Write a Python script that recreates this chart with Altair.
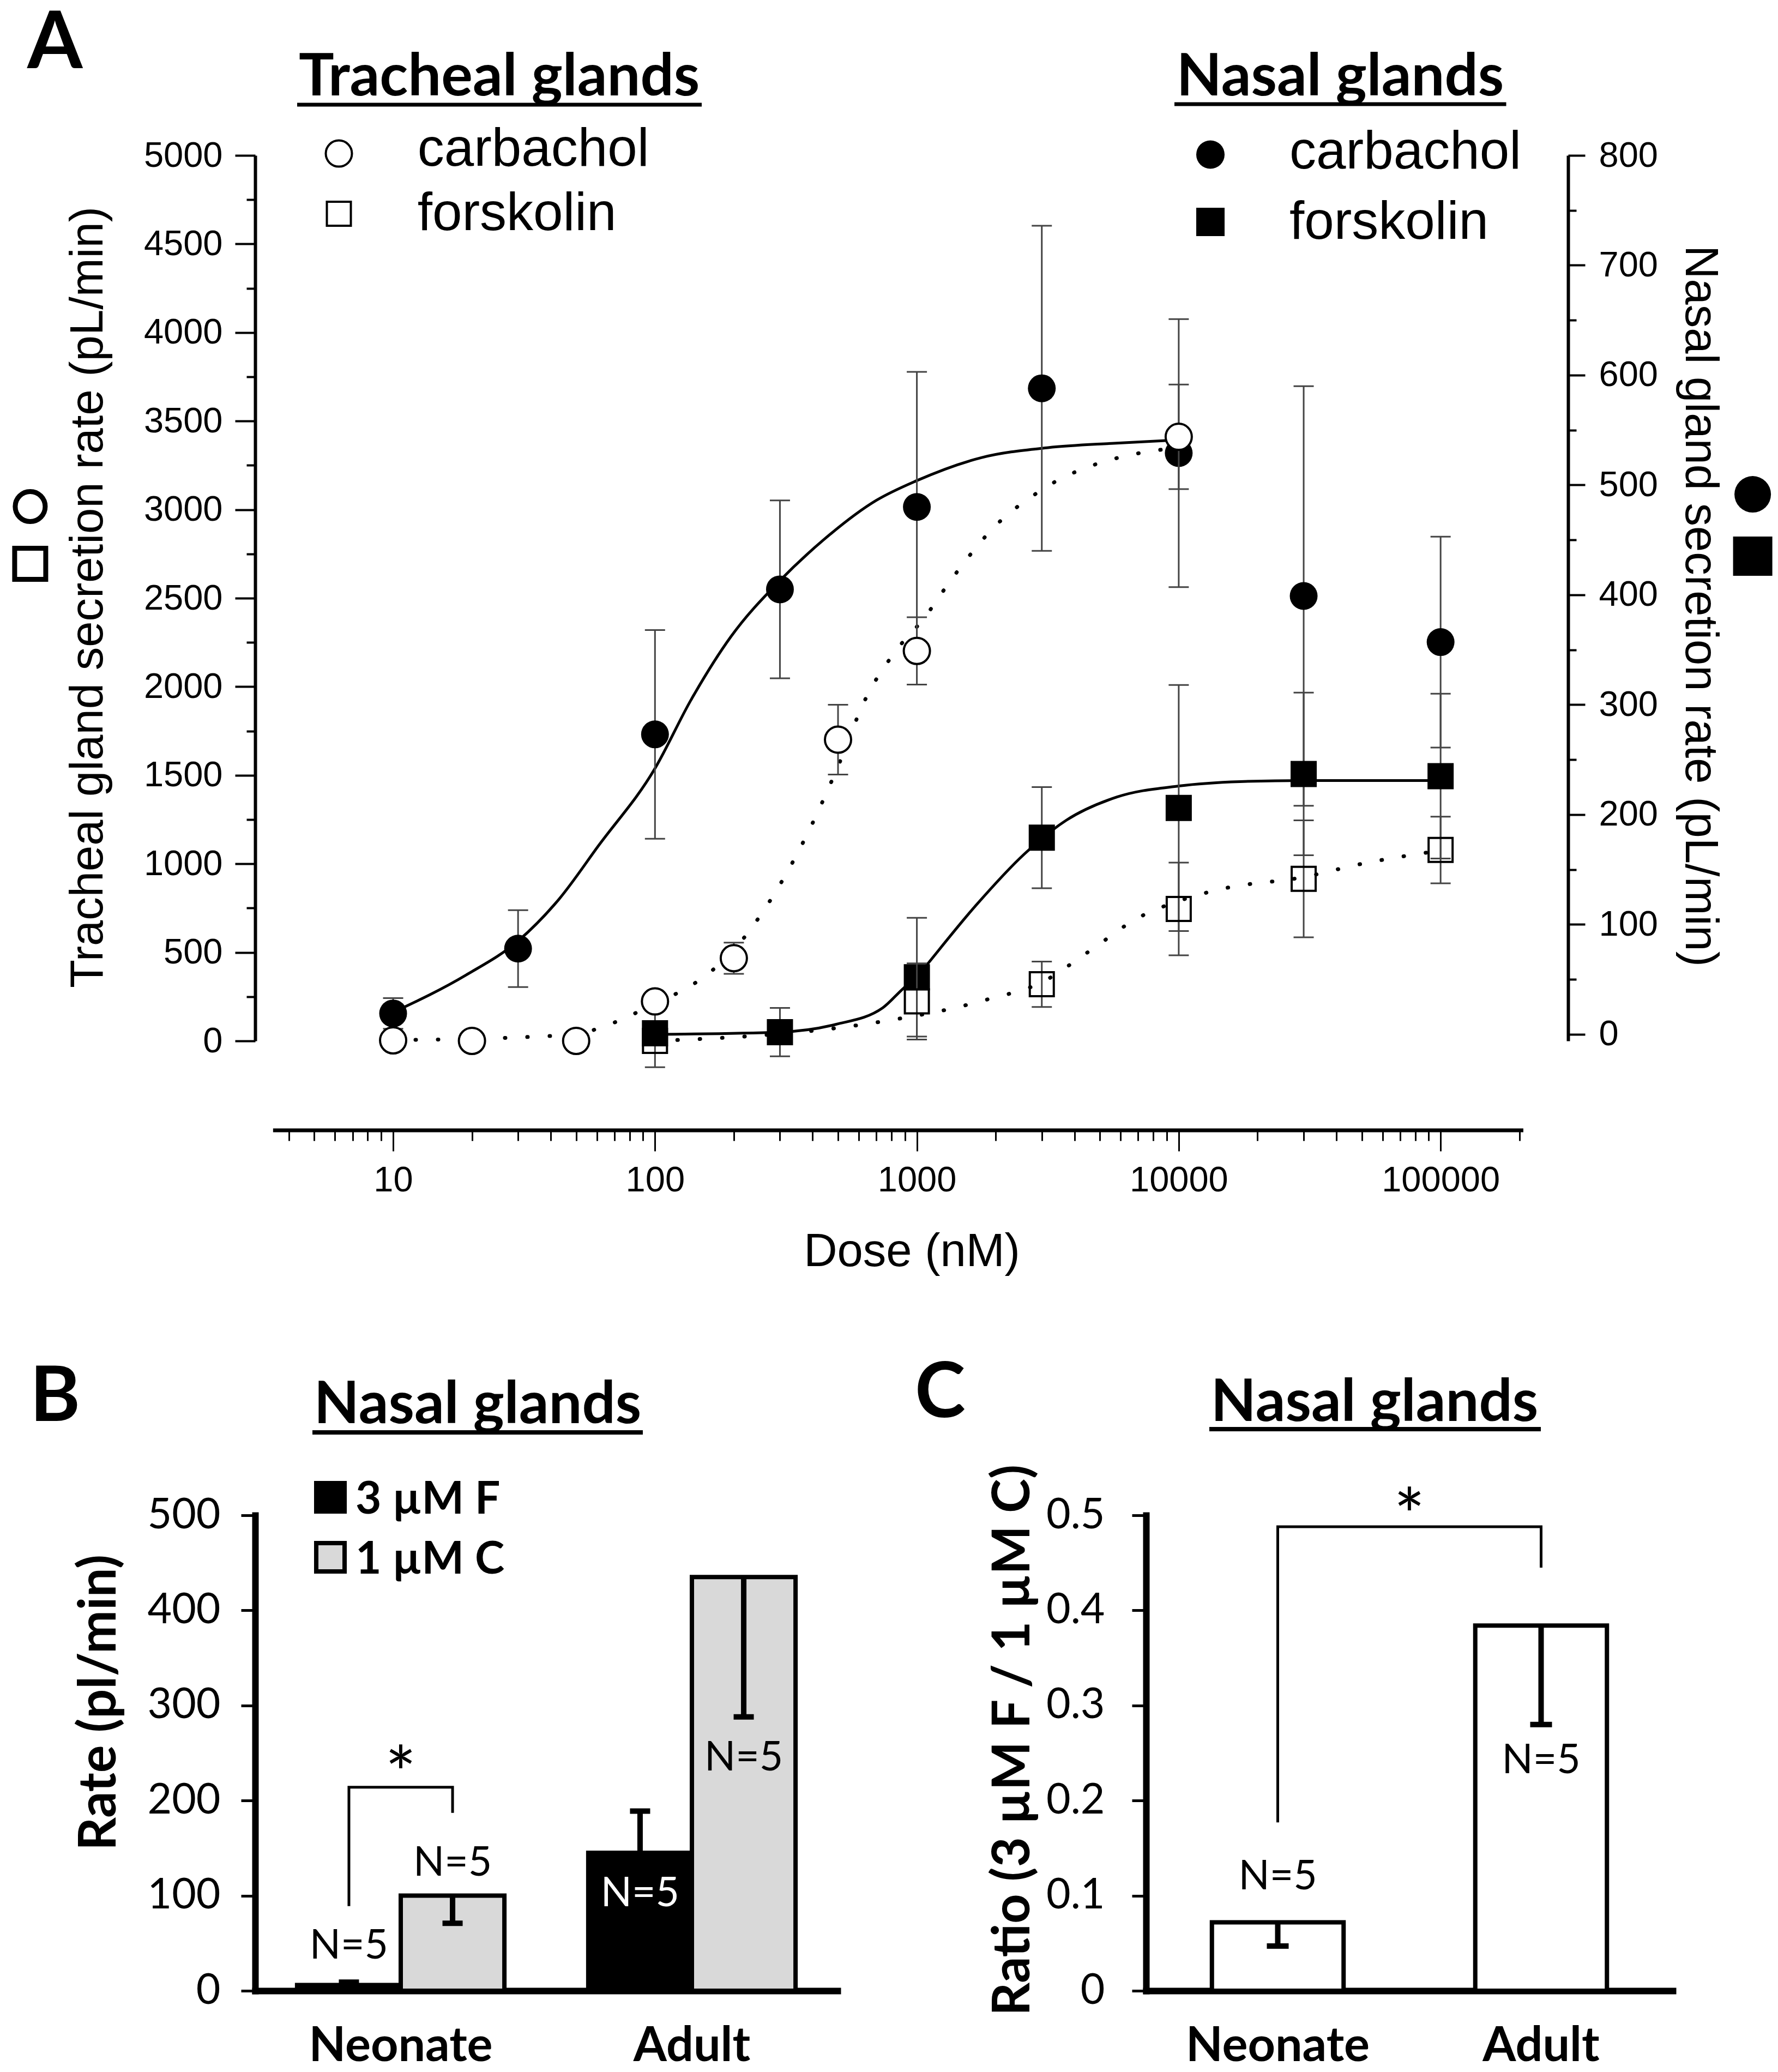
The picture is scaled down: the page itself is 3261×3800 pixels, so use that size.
import altair as alt
import pandas as pd

# ---------------- Panel A data ----------------
# Tracheal glands (open symbols, left axis)
tc_dose = [10, 20, 50, 100, 200, 500, 1000, 10000]
tc_mean = [3, 0, 0, 223, 467, 1701, 2202, 3411]
tc_err = [0, 0, 0, 30, 88, 197, 190, 295]

tf_dose = [100, 1000, 3000, 10000, 30000, 100000]
tf_mean = [0, 223, 320, 745, 915, 1078]
tf_err = [0, 215, 128, 262, 330, 188]

# Nasal glands (filled symbols, right axis)
nc_dose = [10, 30, 100, 300, 1000, 3000, 10000, 30000, 100000]
nc_mean = [19, 78, 273, 405, 480, 588, 529, 399, 357]
nc_err = [14, 35, 95, 81, 123, 148, 122, 191, 96]

nf_dose = [100, 300, 1000, 3000, 10000, 30000, 100000]
nf_mean = [1, 2, 52, 179, 206, 237, 235]
nf_err = [31, 22, 54, 46, 112, 74, 75]

# fitted curves
nc_fit_dose = [10, 19, 30, 43, 61, 100, 137, 195, 300, 440, 700, 1000, 1770, 3170, 5650, 10000]
nc_fit_val = [20, 54, 85, 123, 172, 242, 304, 362, 413, 450, 486, 504, 525, 534, 538, 541]
nf_fit_dose = [100, 300, 490, 740, 890, 1000, 1090, 1690, 2570, 3730, 5810, 10000, 17100, 30000, 100000]
nf_fit_val = [0, 2, 9, 24, 42, 52, 63, 118, 164, 195, 216, 226, 230, 231, 231]
tc_fit_dose = [10, 30, 50, 70, 100, 140, 200, 270, 380, 500, 630, 860, 1070, 1260, 1460, 2000, 2830, 3370, 4780, 6750, 10000]
tc_fit_val = [5, 20, 40, 104, 212, 320, 514, 773, 1163, 1551, 1917, 2230, 2390, 2540, 2670, 2910, 3087, 3157, 3254, 3313, 3350]
tf_fit_dose = [100, 300, 490, 890, 1390, 1860, 3000, 4530, 7060, 10000, 14800, 30000, 50000, 100000]
tf_fit_val = [0, 40, 72, 130, 186, 234, 331, 504, 698, 790, 860, 925, 1000, 1075]

x_axis_extent = [3.48, 207000]
x_tick_labels = [10, 100, 1000, 10000, 100000]

# ---------------- Panel B data ----------------
b_groups = ["Neonate", "Neonate", "Adult", "Adult"]
b_treat = ["3 µM F", "1 µM C", "3 µM F", "1 µM C"]
b_mean = [6, 100, 145, 435]
b_err = [3, 29, 44, 147]
b_dir = [1, -1, 1, -1]
b_n_label = ["N=5", "N=5", "N=5", "N=5"]
b_n_y = [47, 134, 102, 245]
b_bracket_treat = ["3 µM F", "3 µM F", "1 µM C", "1 µM C"]
b_bracket_y = [89, 214, 214, 187]

# ---------------- Panel C data ----------------
c_groups = ["Neonate", "Adult"]
c_mean = [0.072, 0.384]
c_err = [0.025, 0.104]
c_n_label = ["N=5", "N=5"]
c_n_y = [0.12, 0.242]
c_bracket_group = ["Neonate", "Neonate", "Adult", "Adult"]
c_bracket_y = [0.177, 0.488, 0.488, 0.445]

FA = "Liberation Sans"
FB = "Lato"
one = pd.DataFrame({"k": [0]})


def txt(s, x, y, size, font, weight="normal", align="left", baseline="alphabetic", color="black"):
    return alt.Chart(one).mark_text(text=s, font=font, fontSize=size, fontWeight=weight,
                                    align=align, baseline=baseline, color=color).encode(
        x=alt.value(x), y=alt.value(y))


def hline(x1, x2, y, w):
    return alt.Chart(one).mark_rule(color="black", strokeWidth=w).encode(
        x=alt.value(x1), x2=alt.value(x2), y=alt.value(y))


def sym(shape, fill, x, y, size, sw):
    return alt.Chart(one).mark_point(shape=shape, filled=True, fill=fill, stroke="black",
                                     strokeWidth=sw, size=size, opacity=1).encode(
        x=alt.value(x), y=alt.value(y))


# ================= Panel A =================
WA, HA = 2408, 1624
xs = alt.Scale(type="log", domain=[2.973, 306800], nice=False)
ysL = alt.Scale(domain=[0, 5000], nice=False, zero=False)
ysR = alt.Scale(domain=[-6, 800], nice=False, zero=False)

x_vals = [m * 10 ** k for k in range(0, 6) for m in range(1, 10) if 4 <= m * 10 ** k <= 200000]
major_test = "indexof([" + ",".join(str(v) for v in x_tick_labels) + "], datum.value) >= 0"
x_axis = alt.Axis(values=x_vals, labelExpr=major_test + " ? format(datum.value, 'd') : ''",
                  tickSize={"condition": {"test": major_test, "value": 38}, "value": 19},
                  tickWidth=3, tickColor="black", domain=False, offset=164, grid=False,
                  labelFont=FA, labelFontSize=65, labelPadding=22, labelOverlap=False,
                  labelFlush=False, labelColor="black", labelLimit=1000,
                  title="Dose (nM)", titleFont=FA, titleFontSize=85, titleFontWeight="normal",
                  titleX=1204, titleY=222, titleBaseline="middle", titleAlign="center", titleAngle=0)

L_TITLE = "Tracheal gland secretion rate (pL/min)"
R_TITLE = "Nasal gland secretion rate (pL/min)"
yL_axis = alt.Axis(orient="left", values=list(range(0, 5001, 250)), format="d",
                   labelExpr="datum.value % 500 === 0 ? datum.label : ''",
                   tickSize={"condition": {"test": "datum.value % 500 === 0", "value": 37}, "value": 16},
                   tickWidth=4, domainWidth=6, domainColor="black", tickColor="black", grid=False,
                   labelFont=FA, labelFontSize=65, labelPadding=23, labelOverlap=False, labelColor="black",
                   title=L_TITLE, titleFont=FA, titleFontSize=85, titleFontWeight="normal",
                   titleAngle=270, titleX=-307, titleY=810, titleAlign="center", titleBaseline="middle")
yR_axis = alt.Axis(orient="right", values=list(range(0, 801, 50)), format="d",
                   labelExpr="datum.value % 100 === 0 ? datum.label : ''",
                   tickSize={"condition": {"test": "datum.value % 100 === 0", "value": 31}, "value": 15},
                   tickWidth=4, domainWidth=6, domainColor="black", tickColor="black", grid=False,
                   labelFont=FA, labelFontSize=65, labelPadding=25, labelOverlap=False, labelColor="black",
                   title=R_TITLE, titleFont=FA, titleFontSize=85, titleFontWeight="normal",
                   titleAngle=90, titleX=241, titleY=826, titleAlign="center", titleBaseline="middle")


def XD(f="dose"):
    return alt.X(f + ":Q", scale=xs, axis=x_axis, title="Dose (nM)")


def YL(f):
    return alt.Y(f + ":Q", scale=ysL, axis=yL_axis, title=L_TITLE)


def YR(f):
    return alt.Y(f + ":Q", scale=ysR, axis=yR_axis, title=R_TITLE)


def pts(dose, mean, err):
    d = pd.DataFrame({"dose": dose, "mean": mean, "err": err})
    d["lo"] = d["mean"] - d["err"]
    d["hi"] = d["mean"] + d["err"]
    return d


tc = pts(tc_dose, tc_mean, tc_err)
tf = pts(tf_dose, tf_mean, tf_err)
nc = pts(nc_dose, nc_mean, nc_err)
nf = pts(nf_dose, nf_mean, nf_err)
t_err = pd.concat([tc, tf])
t_err = t_err[t_err["err"] > 0]
n_err = pd.concat([nc, nf])
n_err = n_err[n_err["err"] > 0]

ERRC = "#444444"

nasal = alt.layer(
    alt.Chart(pd.DataFrame({"dose": nc_fit_dose, "val": nc_fit_val})).mark_line(
        color="black", strokeWidth=5, interpolate="monotone").encode(x=XD(), y=YR("val")),
    alt.Chart(pd.DataFrame({"dose": nf_fit_dose, "val": nf_fit_val})).mark_line(
        color="black", strokeWidth=5, interpolate="monotone").encode(x=XD(), y=YR("val")),
    alt.Chart(n_err).mark_rule(color=ERRC, strokeWidth=3).encode(x=XD(), y=YR("lo"), y2="hi"),
    alt.Chart(n_err).mark_tick(orient="horizontal", size=37, thickness=3, color=ERRC, opacity=1).encode(
        x=XD(), y=YR("lo")),
    alt.Chart(n_err).mark_tick(orient="horizontal", size=37, thickness=3, color=ERRC, opacity=1).encode(
        x=XD(), y=YR("hi")),
    alt.Chart(nc).mark_point(shape="circle", filled=True, fill="black", strokeWidth=0, size=2600,
                             opacity=1).encode(x=XD(), y=YR("mean")),
    alt.Chart(nf).mark_point(shape="square", filled=True, fill="black", strokeWidth=0, size=2304,
                             opacity=1).encode(x=XD(), y=YR("mean")),
)

tracheal = alt.layer(
    alt.Chart(pd.DataFrame({"dose": tc_fit_dose, "val": tc_fit_val})).mark_line(
        color="black", strokeWidth=7, strokeDash=[1, 40], strokeCap="round",
        interpolate="monotone").encode(x=XD(), y=YL("val")),
    alt.Chart(pd.DataFrame({"dose": tf_fit_dose, "val": tf_fit_val})).mark_line(
        color="black", strokeWidth=7, strokeDash=[1, 40], strokeCap="round",
        interpolate="monotone").encode(x=XD(), y=YL("val")),
    alt.Chart(t_err).mark_rule(color=ERRC, strokeWidth=3).encode(x=XD(), y=YL("lo"), y2="hi"),
    alt.Chart(t_err).mark_tick(orient="horizontal", size=37, thickness=3, color=ERRC, opacity=1).encode(
        x=XD(), y=YL("lo")),
    alt.Chart(t_err).mark_tick(orient="horizontal", size=37, thickness=3, color=ERRC, opacity=1).encode(
        x=XD(), y=YL("hi")),
    alt.Chart(tc).mark_point(shape="circle", filled=True, fill="white", stroke="black", strokeWidth=4,
                             size=2304, opacity=1).encode(x=XD(), y=YL("mean")),
    alt.Chart(tf).mark_point(shape="square", filled=False, stroke="black", strokeWidth=4,
                             size=1936, opacity=1).encode(x=XD(), y=YL("mean")),
    # x axis line (offset below the plot)
    alt.Chart(pd.DataFrame({"x0": [x_axis_extent[0]], "x1": [x_axis_extent[1]]})).mark_rule(
        color="black", strokeWidth=7).encode(x=XD("x0"), x2="x1", y=alt.value(1788)),
    # page pin (compensates the 8px page margin)
    alt.Chart(one).mark_rect(color="white").encode(x=alt.value(-452), x2=alt.value(-451),
                                                   y=alt.value(-276), y2=alt.value(-275)),
    txt("A", -418, -160, 146, FB, "bold"),
    txt("Tracheal glands", 447.6, -110.5, 108, FB, "bold", align="center"),
    hline(77, 819, -93, 7),
    txt("Nasal glands", 1990, -110.5, 108, FB, "bold", align="center"),
    hline(1686, 2294.5, -94, 7),
    sym("circle", "white", 153.5, -3.4, 2304, 4),
    sym("square", "white", 153.5, 107, 1936, 4),
    txt("carbachol", 297.7, 19, 98, FA),
    txt("forskolin", 297.7, 137, 98, FA),
    sym("circle", "black", 1752, -1.5, 2704, 0),
    sym("square", "black", 1752, 122, 2704, 0),
    txt("carbachol", 1897, 24, 98, FA),
    txt("forskolin", 1897, 153, 98, FA),
    sym("circle", "white", -412.6, 644, 3025, 9),
    sym("square", "white", -412.6, 749, 3249, 9),
    sym("circle", "black", 2746.6, 621.6, 4489, 0),
    sym("square", "black", 2746.6, 735, 5184, 0),
)

panelA = alt.layer(nasal, tracheal).resolve_scale(y="independent").properties(width=WA, height=HA)

# ================= Panel B =================
WB, HB = 1068, 872
bdf = pd.DataFrame({"group": b_groups, "treat": b_treat, "mean": b_mean, "err": b_err,
                    "dir": b_dir, "nlab": b_n_label, "ny": b_n_y})
bdf["end"] = bdf["mean"] + bdf["dir"] * bdf["err"]

bx_axis = alt.Axis(title=None, labelAngle=0, ticks=False, tickSize=0, domainWidth=12, domainCap="square",
                   domainColor="black", labelFont=FB, labelFontSize=88, labelFontWeight="bold",
                   labelPadding=58, labelColor="black", labelLimit=1000)
B_TITLE = "Rate (pl/min)"
by_axis = alt.Axis(values=[0, 100, 200, 300, 400, 500], tickSize=26, tickWidth=5, domainWidth=12,
                   domainCap="square", domainColor="black", tickColor="black", grid=False,
                   labelFont=FB, labelFontSize=77, labelPadding=38, labelColor="black",
                   title=B_TITLE, titleFont=FB, titleFontSize=95, titleFontWeight="bold",
                   titleAngle=270, titleX=-286, titleY=343, titleAlign="center", titleBaseline="middle")
bx = alt.X("group:N", sort=["Neonate", "Adult"],
           scale=alt.Scale(domain=["Neonate", "Adult"], paddingInner=0.288, paddingOuter=0.144),
           axis=bx_axis)
bxo = alt.XOffset("treat:N", sort=["3 µM F", "1 µM C"],
                  scale=alt.Scale(domain=["3 µM F", "1 µM C"], paddingInner=0, paddingOuter=0))


def BY(f):
    return alt.Y(f + ":Q", scale=alt.Scale(domain=[0, 500], nice=False), axis=by_axis, title=B_TITLE)


bb = pd.DataFrame({"group": ["Neonate"] * 4, "treat": b_bracket_treat, "y": b_bracket_y,
                   "o": list(range(4))})

panelB = alt.layer(
    alt.Chart(bdf).mark_bar(stroke="black", strokeWidth=8).encode(
        x=bx, xOffset=bxo, y=BY("mean"),
        fill=alt.Fill("treat:N", scale=alt.Scale(domain=["3 µM F", "1 µM C"], range=["black", "#d9d9d9"]),
                      legend=None)),
    alt.Chart(bdf).mark_rule(color="black", strokeWidth=10).encode(x=bx, xOffset=bxo, y=BY("mean"), y2="end"),
    alt.Chart(bdf).mark_tick(orient="horizontal", size=37, thickness=10, color="black", opacity=1).encode(
        x=bx, xOffset=bxo, y=BY("end")),
    alt.Chart(bdf).mark_text(font=FB, fontSize=75, baseline="middle").encode(
        x=bx, xOffset=bxo, y=BY("ny"), text="nlab:N",
        color=alt.condition("datum.group == 'Adult' && datum.treat == '3 µM F'",
                            alt.value("white"), alt.value("black"))),
    alt.Chart(bb).mark_line(color="black", strokeWidth=5).encode(x=bx, xOffset=bxo, y=BY("y"), order="o:Q"),
    alt.Chart(pd.DataFrame({"group": ["Neonate"], "y": [b_bracket_y[1]], "t": ["*"]})).mark_text(
        font=FB, fontSize=135, baseline="alphabetic", dy=24).encode(x=bx, y=BY("y"), text="t:N"),
    txt("B", -413, -173, 140, FB, "bold"),
    txt("Nasal glands", 408, -169, 108, FB, "bold", align="center"),
    hline(105, 711, -152, 8),
    sym("square", "black", 138, -33, 2704, 8),
    sym("square", "#d9d9d9", 138, 77, 2704, 8),
    txt("3 µM F", 184, -3.5, 82, FB, "bold"),
    txt("1 µM C", 184, 106.5, 82, FB, "bold"),
).properties(width=WB, height=HB)

# ================= Panel C =================
WC, HC = 966, 872
cdf = pd.DataFrame({"group": c_groups, "mean": c_mean, "err": c_err, "nlab": c_n_label, "ny": c_n_y})
cdf["end"] = cdf["mean"] - cdf["err"]
C_TITLE = "Ratio (3 µM F / 1 µM C)"
cy_axis = alt.Axis(values=[0, 0.1, 0.2, 0.3, 0.4, 0.5], tickSize=26, tickWidth=5, domainWidth=12,
                   domainCap="square", domainColor="black", tickColor="black", grid=False,
                   labelFont=FB, labelFontSize=77, labelPadding=50, labelColor="black",
                   labelExpr="datum.value == 0 ? '0' : format(datum.value, '.1f')",
                   title=C_TITLE, titleFont=FB, titleFontSize=95, titleFontWeight="bold",
                   titleAngle=270, titleX=-244, titleY=412, titleAlign="center", titleBaseline="middle")
cx = alt.X("group:N", sort=["Neonate", "Adult"],
           scale=alt.Scale(domain=["Neonate", "Adult"], paddingInner=0.5, paddingOuter=0.25),
           axis=bx_axis)


def CY(f):
    return alt.Y(f + ":Q", scale=alt.Scale(domain=[0, 0.5], nice=False), axis=cy_axis, title=C_TITLE)


cb = pd.DataFrame({"group": c_bracket_group, "y": c_bracket_y, "o": list(range(4))})

panelC = alt.layer(
    alt.Chart(cdf).mark_bar(fill="white", stroke="black", strokeWidth=8).encode(x=cx, y=CY("mean")),
    alt.Chart(cdf).mark_rule(color="black", strokeWidth=10).encode(x=cx, y=CY("mean"), y2="end"),
    alt.Chart(cdf).mark_tick(orient="horizontal", size=40, thickness=10, color="black", opacity=1).encode(
        x=cx, y=CY("end")),
    alt.Chart(cdf).mark_text(font=FB, fontSize=75, baseline="middle", color="black").encode(
        x=cx, y=CY("ny"), text="nlab:N"),
    alt.Chart(cb).mark_line(color="black", strokeWidth=5).encode(x=cx, y=CY("y"), order="o:Q"),
    alt.Chart(pd.DataFrame({"y": [c_bracket_y[1]], "t": ["*"]})).mark_text(
        font=FB, fontSize=135, baseline="alphabetic", dy=29).encode(x=alt.value(WC / 2), y=CY("y"), text="t:N"),
    txt("C", -424, -180, 140, FB, "bold"),
    txt("Nasal glands", 419, -173, 108, FB, "bold", align="center"),
    hline(116, 724, -158, 8),
).properties(width=WC, height=HC)

bottom = alt.hconcat(panelB, panelC, spacing=566, bounds="flush")
chart = alt.vconcat(panelA, bottom, spacing=870, bounds="flush").properties(padding=0).configure_view(
    stroke=None).configure_axis(grid=False)

chart.save("out.html", embed_options={"renderer": "svg", "actions": False})
